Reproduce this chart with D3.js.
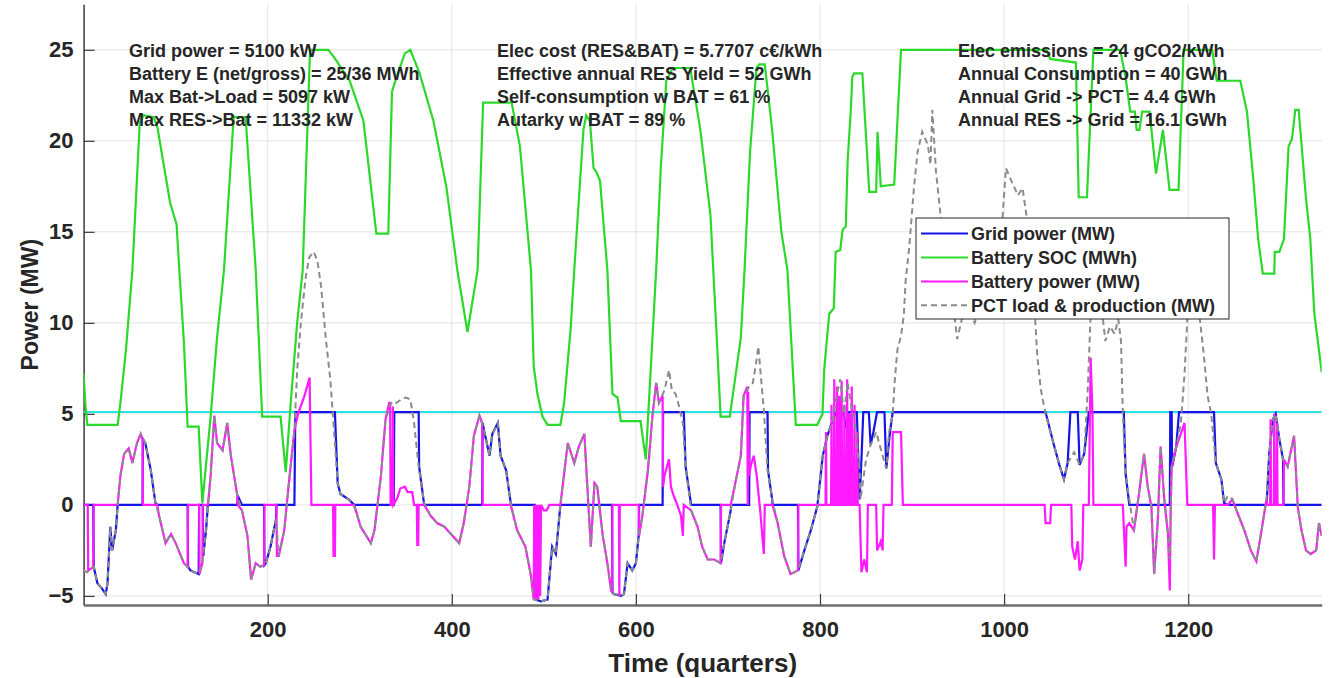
<!DOCTYPE html>
<html>
  <head>
    <meta charset="utf-8">
    <script src="https://d3js.org/d3.v7.min.js" charset="utf-8"></script>
    <style>
      body { margin: 0; background: #fff; }
      text { font-family: Arial, "Liberation Sans", sans-serif; font-weight: bold; fill: #262626; }
    </style>
  </head>
  <body>
    <script type="text/javascript">

// tick labels
var xTicks = [200, 400, 600, 800, 1000, 1200];
var yTicks = [-5, 0, 5, 10, 15, 20, 25];

// grid power limit (MW)
var gridLimit = 5.1;

// Battery SOC (MWh), [quarter, value]
var socPoints = [
  [0,7.2],[2,5.5],[4,4.4],[37,4.4],[40,5.6],[46,8.5],[53,12.9],[61,21.0],[65,21.4],[76,21.3],[80,20.8],
  [94,16.6],[101,15.4],[104,12.9],[109,8.9],[113,4.3],[125,4.3],[129,0.1],[138,4.85],[145,9.2],[152.5,12.9],
  [163,21.3],[176,21.3],[187,12.9],[194,4.85],[214,4.85],[219.6,1.8],[225,5.6],[232,10],[238,12.9],[246,25],
  [266,25],[272,24.6],[289,23.3],[304,21.1],[318,14.9],[331,14.9],[335,22.7],[340,23.5],[349,24.8],[355,25],
  [365,23.7],[380,21.1],[394,17.5],[406,12.9],[417,9.5],[428,12.9],[434,22.1],[465,22.1],[474,19.7],[486,12.9],
  [489,7.6],[493,6.1],[498.5,4.85],[504,4.4],[518,4.4],[522,5.6],[529,9.6],[533,12.9],[543,20.6],[546,21.4],
  [550,21.1],[554,18.5],[557,18.3],[561,17.8],[569,12.9],[574.5,6.1],[580,5.9],[583.6,4.6],[605,4.6],[610.7,2.5],
  [618,9.2],[622,12.9],[627,18.5],[633,23.3],[640,24.0],[659,24.0],[670,20.6],[681,15.9],[688,9.0],[692,4.85],
  [702,4.85],[714,9.2],[718,12.9],[724,19.4],[731,24.0],[734,24.2],[740,24.2],[748,20.6],[758,15.0],[764.6,12.9],
  [773.7,4.4],[797,4.4],[802.7,5.0],[804.5,7.4],[810,10.5],[815,10.8],[817,13.9],[822,14.0],[824.5,15.1],[828,15.3],
  [830,18.9],[833.5,21.7],[835,23.5],[837,23.7],[846,23.7],[853.5,17.2],[861,17.2],[862.5,20.5],[866,17.5],
  [880.6,17.6],[888,25],[1046,25],[1050,24.5],[1078,24.3],[1081,16.9],[1090,16.9],[1097,25],[1126,25],
  [1131.6,23.6],[1137,21.6],[1142,21.6],[1144,20.6],[1147,20.6],[1150,21.6],[1158,21.6],[1165,18.2],
  [1172.5,20.6],[1179.7,17.3],[1189.5,17.3],[1195,25],[1226,25],[1231,23.3],[1256.6,23.3],[1263.8,21.6],
  [1270.7,17.9],[1276,14.6],[1281,12.7],[1293.5,12.7],[1294,13.9],[1299,13.9],[1304,14.6],[1309,19.7],
  [1312.7,20.1],[1316.3,21.7],[1320,21.7],[1328,16.8],[1332.6,14.6],[1337,10.5],[1345,7.3]
];

// PCT load & production (MW)
var loadPoints = [
  [0,-3.6],[4,-3.7],[8,-3.5],[11,-3.4],[15,-4.3],[20,-4.6],[24,-4.9],[26,-4.3],[29,-1.2],[31,-2.5],[35,-1.4],
  [37,0],[40,1.6],[44,2.8],[49,3.1],[53,2.3],[58,3.4],[62,3.9],[67,3.4],[73,1.9],[78,0.1],[82,-0.6],[89,-2.1],
  [95,-1.6],[100,-2.1],[109,-3.2],[116,-3.6],[125,-3.8],[129,-3.2],[133,-1.4],[138,1.6],[142,4.9],[145,3.4],
  [151,3.0],[156,4.5],[160,2.7],[167,0.5],[172,-0.3],[178,-1.7],[182,-4.1],[187,-3.2],[192,-3.4],[198,-3.2],
  [203,-2.3],[209,-0.8],[212,-2.8],[218,-1.4],[223,1.2],[229,4.1],[232,7.4],[236,10.0],[241,12.4],[245,13.6],
  [250,13.9],[254,13.4],[258,12.0],[263,9.2],[268,6.9],[272,4.1],[276,1.2],[279,0.6],[288,0.3],[294,-0.1],
  [301,-1.2],[312,-2.1],[316,-1.4],[323,1.6],[328,4.7],[334,5.6],[337,5.5],[345,5.8],[350,5.9],[355,5.8],
  [359,4.5],[364,2.1],[370,0.1],[377,-0.6],[384,-1.0],[392,-1.2],[399,-1.6],[408,-2.1],[413,-1.0],[419,1.0],
  [424,3.8],[430,4.9],[435,4.1],[441,2.7],[444,3.9],[450,4.5],[453,2.7],[459,1.9],[464,0.1],[471,-1.4],
  [480,-2.3],[486,-3.9],[489,-5.2],[497,-5.3],[504,-5.2],[509,-2.3],[513,-2.7],[518,0.1],[526,3.4],[533,2.3],
  [538,3.2],[544,3.9],[547,1.2],[551,-2.3],[555,1.2],[558,1.0],[564,-1.7],[569,-3.2],[573,-4.7],[576,-4.9],
  [584,-5.0],[587,-4.9],[591,-3.2],[596,-3.6],[600,-3.2],[603,-1.7],[607,-0.6],[613,1.9],[618,4.9],[622,6.7],
  [625,5.6],[631,6.3],[636,7.4],[639,6.3],[643,6.1],[647,5.4],[651,4.5],[654,2.1],[660,-0.3],[667,-1.2],
  [672,-2.3],[678,-3.0],[685,-3.0],[692,-3.2],[696,-2.1],[703,-0.3],[708,1.2],[714,2.7],[717,6.0],[723,6.5],
  [727,6.7],[730,7.6],[733,8.7],[736,6.9],[739,5.2],[743,1.9],[748,0.3],[754,-1.0],[761,-2.8],[768,-3.8],
  [776,-3.6],[783,-2.5],[790,-1.4],[797,-0.1],[803,2.7],[808,3.8],[814,4.7],[818,6.0],[822,6.9],[826,5.0],
  [830,6.7],[834,5.4],[837,4.8],[843,2.0],[844,0.3],[850,2.5],[855,3.3],[861,4.0],[868,2.7],[872,2.0],
  [875,4.0],[879,5.0],[881,6.7],[884,8.5],[888,9.3],[891,10.4],[893,12.3],[897,14.2],[902,17.4],[906,19.4],
  [911,20.5],[917,19.8],[920,18.7],[922,21.7],[926,18.3],[930,16.4],[935,13.8],[940,11.9],[946,10.4],[949,9.1],
  [955,10.4],[960,10.8],[968,10.0],[975,11.2],[982,10.4],[989,11.9],[997,14.9],[1002,18.5],[1007,17.9],
  [1015,17.0],[1020,17.4],[1024,16.0],[1029,13.0],[1033,10.8],[1036,8.2],[1040,6.3],[1045,5.0],[1054,3.3],
  [1060,2.2],[1065,1.4],[1069,2.3],[1076,2.9],[1082,2.2],[1087,2.8],[1091,6.5],[1094,10.5],[1100,12.0],
  [1106,10.8],[1110,9.0],[1115,9.8],[1120,9.4],[1124,10.2],[1127,9.0],[1129,5.0],[1132,1.7],[1136,0.3],
  [1141,-1.4],[1147,0.8],[1152,2.8],[1156,1.0],[1160,-0.1],[1163,-3.8],[1167,-0.8],[1170,3.2],[1174,0.3],
  [1178,-1.6],[1180,-3.0],[1182,2.1],[1187,3.2],[1192,4.5],[1196,7.2],[1199,10.2],[1205,11.5],[1212,10.5],
  [1217,8.2],[1221,6.0],[1225,5.0],[1230,2.3],[1236,1.4],[1239,0.1],[1243,0.5],[1248,0.3],[1254,-0.5],
  [1261,-1.4],[1268,-2.5],[1274,-3.1],[1279,-1.6],[1285,0.3],[1288,2.8],[1292,4.7],[1295,5.0],[1299,3.6],
  [1303,2.5],[1308,2.1],[1315,3.8],[1319,-0.1],[1323,-1.4],[1328,-2.5],[1333,-2.7],[1339,-2.5],[1342,-1.0],
  [1345,-1.7]
];

// Grid power (MW)
var gridPoints = [
  [0,0],[10.5,0],[11,-3.4],[15,-4.3],[20,-4.6],[24,-4.9],[26,-4.3],[29,-1.2],[31,-2.5],[35,-1.4],[37,0],
  [64,0],[64.5,3.6],[67,3.4],[73,1.9],[78,0.1],[80,0],[113,0],[113.5,-3.4],[116,-3.6],[125,-3.8],[125.5,0],
  [129.5,0],[130,-2.8],[133,-1.4],[135,0],[167,0],[167.5,0.5],[172,0],[196,0],[196.5,-3.3],[198,-3.2],
  [203,-2.3],[209,-0.8],[209.5,0],[229,0],[230,5.1],[273,5.1],[276,1.2],[279,0.6],[288,0.3],[294,0],[337,0],
  [337.5,5.1],[364,5.1],[364.5,2.1],[370,0],[433,0],[433.5,4.5],[435,4.1],[441,2.7],[444,3.9],[450,4.5],
  [453,2.7],[459,1.9],[464,0.1],[464.5,0],[490,0],[490.5,-5.2],[497,-5.3],[504,-5.2],[509,-2.3],[513,-2.7],
  [518,0],[574,0],[574.5,-4.8],[576,-4.9],[584,-5.0],[587,-4.9],[591,-3.2],[596,-3.6],[600,-3.2],[603,-1.7],
  [603.5,0],[629,0],[629.5,5.1],[652,5.1],[654,2.1],[660,0],[692,0],[692.5,-3.2],[696,-2.1],[703,-0.3],
  [703.5,0],[723,0],[723.5,5.1],[743,5.1],[743.5,1.9],[748,0.3],[748.5,0],[776,0],[776.5,-3.6],[783,-2.5],
  [790,-1.4],[797,-0.1],[803,2.7],[808,3.8],[814,4.7],[818,5.1],[826,5.0],[828,4.2],[831,5.1],[840,5.1],
  [843,0.3],[845,2.5],[847,5.1],[853,5.1],[855,3.3],[858,4.0],[862,5.1],[870,5.1],[872,2.0],[876,4.0],
  [879,5.1],[1045,5.1],[1054,3.3],[1060,2.2],[1065,1.4],[1069,2.3],[1072,5.1],[1080,5.1],[1082,2.2],
  [1087,2.8],[1092,5.1],[1130,5.1],[1132,1.7],[1136,0],[1180,0],[1180.5,5.1],[1182,5.1],[1182.5,2.1],
  [1187,3.2],[1190,5.1],[1228,5.1],[1230,2.3],[1236,1.4],[1239,0.1],[1243,0],[1285,0],[1285.5,0.3],
  [1288,2.8],[1292,4.7],[1295,5.0],[1299,3.6],[1303,2.5],[1303.5,0],[1345,0]
];

// Battery power (MW)
var batteryPoints = [
  [0,0],[4.5,0],[5,-3.6],[8,-3.5],[10.5,-3.4],[11,0],[37,0],[40,1.6],[44,2.8],[49,3.1],[53,2.3],[58,3.4],
  [62,3.9],[64,3.6],[64.5,0],[80,0],[82,-0.6],[89,-2.1],[95,-1.6],[100,-2.1],[109,-3.2],[113,-3.4],[113.5,0],
  [125.5,0],[126,-3.8],[129,-3.2],[129.5,0],[135,0],[138,1.6],[142,4.9],[145,3.4],[151,3.0],[156,4.5],
  [160,2.7],[167,0.5],[167.5,0],[172,-0.3],[178,-1.7],[182,-4.1],[187,-3.2],[192,-3.4],[196,-3.3],[196.5,0],
  [209.5,0],[210,-2.8],[212,-2.8],[218,-1.4],[223,1.2],[229,4.1],[233,5.0],[240,6.0],[245.5,7.0],[247.5,0],
  [271,0],[271.5,-2.8],[273,-2.8],[273.5,0],[294,0],[301,-1.2],[312,-2.1],[316,-1.4],[323,1.6],[328,4.7],
  [332,5.6],[333,5.6],[333.5,0],[335.5,0],[336,5.4],[336.5,0],[341,0.4],[344,0.9],[349,1.0],[352,0.7],
  [357,0.7],[359,0],[362,0],[362.5,-2.2],[363.5,-2.2],[364,0],[370,0],[377,-0.6],[384,-1.0],[392,-1.2],
  [399,-1.6],[408,-2.1],[413,-1.0],[419,1.0],[424,3.8],[430,4.9],[433,4.5],[433.5,0],[464,0],[471,-1.4],
  [480,-2.3],[486,-3.9],[489,-5.2],[489.5,0],[490,-5.2],[491,0],[492,-5.2],[493,0],[494,-5.2],[495,0],
  [496,-5.0],[497,0],[500,-0.3],[503,-0.3],[506,0],[518,0],[526,3.4],[533,2.3],[538,3.2],[544,3.9],[547,1.2],
  [551,-2.3],[555,1.2],[558,1.0],[564,-1.7],[569,-3.2],[573,-4.7],[574,-4.8],[574.5,0],[581.5,0],[582,-5.0],
  [582.5,0],[603,0],[603.5,-1.7],[607,-0.6],[613,1.9],[618,4.9],[622,6.7],[625,5.6],[629,6.0],[629.5,1.0],
  [631,1.6],[636,2.5],[638,1.0],[641,0.5],[645,0],[649,-0.6],[651,-1.7],[652,0],[660,-0.3],[667,-1.2],
  [672,-2.3],[678,-3.0],[685,-3.0],[692,-3.2],[692.5,0],[703,0],[708,1.2],[714,2.7],[717,6.0],[721,6.5],
  [721.5,0],[722,6.2],[723,1.6],[725,2.2],[728,2.7],[731,1.7],[735,-0.3],[739,-2.7],[740,0],[748.5,0],
  [754,-1.0],[761,-2.8],[768,-3.8],[776,-3.6],[776.5,0],[806,0],[806.5,4.0],[807,0],[812,0],[812.5,5.5],
  [813,0],[815,0],[815.5,6.9],[816,0],[818,0],[818.5,6.5],[819,0],[820.5,0],[821,6.0],[821.5,0],[823,0],
  [823.5,6.8],[824,0],[826,0],[826.5,5.5],[827,0],[829,0],[829.5,6.9],[830,0],[831.5,0],[832,5.0],[832.5,0],
  [834,0],[834.5,6.5],[835,0],[837,0],[837.5,5.5],[838,0],[840,0],[840.5,4.0],[841,0],[843,0],[845,-3.7],
  [848,-3.0],[851,-3.7],[852,0],[861,0],[862,-2.5],[866,-2.0],[868,-2.5],[869,0],[878,0],[879,4.0],[888,4.0],
  [890,0],[1044,0],[1045,-1.0],[1050,-1.0],[1051,0],[1073,0],[1074,-2.3],[1077,-3.0],[1080,-2.0],
  [1082,-3.6],[1085,-3.0],[1086,0],[1092,0],[1094,8.1],[1096,5.0],[1097,0],[1129,0],[1130,-1.2],
  [1132,-3.4],[1133,-1.2],[1136,-1.0],[1141,-1.4],[1147,0.8],[1152,2.8],[1156,1.0],[1160,-0.1],[1163,-3.8],
  [1167,-0.8],[1170,3.2],[1174,0.3],[1178,-1.6],[1180,-4.7],[1181,0],[1182,2.1],[1187,3.2],[1192,3.9],
  [1196,4.5],[1199,0],[1227,0],[1228,-3.0],[1229,0],[1243,0],[1248,0.3],[1254,-0.5],[1261,-1.4],
  [1268,-2.5],[1274,-3.1],[1279,-1.6],[1285,0.3],[1285.5,0],[1289,0],[1289.5,4.7],[1290,0],[1293,0],
  [1293.5,5.0],[1294,0],[1296,0],[1296.5,4.5],[1297,0],[1303.5,0],[1304,2.5],[1308,2.1],[1315,3.8],
  [1319,-0.1],[1323,-1.4],[1328,-2.5],[1333,-2.7],[1339,-2.5],[1342,-1.0],[1345,-1.7]
];

var legendLabels = ["Grid power (MW)", "Battery SOC (MWh)", "Battery power (MW)", "PCT load & production (MW)"];

var infoCol1 = ["Grid power = 5100 kW", "Battery E (net/gross) = 25/36 MWh", "Max Bat->Load = 5097 kW", "Max RES->Bat = 11332 kW"];
var infoCol2 = ["Elec cost (RES&BAT) = 5.7707 c\u20ac/kWh", "Effective annual RES Yield = 52 GWh", "Self-consumption  w BAT = 61 %", "Autarky w BAT = 89 %"];
var infoCol3 = ["Elec emissions = 24 gCO2/kWh", "Annual Consumption = 40 GWh", "Annual Grid -> PCT = 4.4 GWh", "Annual RES -> Grid = 16.1 GWh"];

var w = 1329;
var h = 678;

var colBlue = "#1414e6";
var colGreen = "#2bd92b";
var colMagenta = "#ff1aff";
var colGrey = "#8c8c8c";
var colCyan = "#29e3e3";

var x = d3.scaleLinear().domain([0, 1345]).range([83.6, 1321.7]);
var y = d3.scaleLinear().domain([-5.5, 27.5]).range([605, 4.3]);

var svg = d3.select("body")
  .append("svg")
  .attr("width", w)
  .attr("height", h);

svg.append("defs").append("clipPath").attr("id", "plot")
  .append("rect")
  .attr("x", x(0)).attr("y", y(27.5))
  .attr("width", x(1345) - x(0)).attr("height", y(-5.5) - y(27.5));

// grid lines
svg.append("g").selectAll("line")
  .data(xTicks).enter().append("line")
  .attr("x1", function(d) { return x(d); }).attr("x2", function(d) { return x(d); })
  .attr("y1", y(27.5)).attr("y2", y(-5.5))
  .style("stroke", "#e3e3e3").style("stroke-width", 1);
svg.append("g").selectAll("line")
  .data(yTicks).enter().append("line")
  .attr("x1", x(0)).attr("x2", x(1345))
  .attr("y1", function(d) { return y(d); }).attr("y2", function(d) { return y(d); })
  .style("stroke", "#e3e3e3").style("stroke-width", 1);

// axes, MATLAB style ticks pointing inside
var yAxis = svg.append("g")
  .attr("transform", "translate(" + x(0) + ",0)")
  .call(d3.axisLeft(y).tickValues(yTicks).tickFormat(d3.format("d")).tickSize(-11).tickSizeOuter(0).tickPadding(10));
var xAxis = svg.append("g")
  .attr("transform", "translate(0," + y(-5.5) + ")")
  .call(d3.axisBottom(x).tickValues(xTicks).tickFormat(d3.format("d")).tickSize(-11).tickSizeOuter(0).tickPadding(16));

[yAxis, xAxis].forEach(function(a) {
  a.select(".domain").style("stroke", "#3c3c3c").style("stroke-width", 1.5);
  a.selectAll(".tick line").style("stroke", "#3c3c3c").style("stroke-width", 1.2);
  a.selectAll(".tick text").style("font-size", "22px").style("font-family", "Arial, 'Liberation Sans', sans-serif")
    .style("font-weight", "bold").style("fill", "#262626");
});
xAxis.select(".domain").style("stroke", "#6e6e6e").style("stroke-width", 2.5);

svg.append("text")
  .attr("transform", "translate(30," + ((y(27.5) + y(-5.5)) / 2) + ") rotate(-90)")
  .attr("text-anchor", "middle").attr("dy", "0.35em")
  .style("font-size", "23px")
  .text("Power (MW)");

svg.append("text")
  .attr("x", (x(0) + x(1345)) / 2).attr("y", 663)
  .attr("text-anchor", "middle").attr("dy", "0.35em")
  .style("font-size", "26px")
  .text("Time (quarters)");

// series
var line = d3.line()
  .x(function(d) { return x(d[0]); })
  .y(function(d) { return y(d[1]); });

var plot = svg.append("g").attr("clip-path", "url(#plot)");

plot.append("line")
  .attr("x1", x(0)).attr("x2", x(1345))
  .attr("y1", y(gridLimit)).attr("y2", y(gridLimit))
  .style("stroke", colCyan).style("stroke-width", 2);

plot.append("path").datum(gridPoints).attr("d", line)
  .style("fill", "none").style("stroke", colBlue).style("stroke-width", 2.2);
plot.append("path").datum(socPoints).attr("d", line)
  .style("fill", "none").style("stroke", colGreen).style("stroke-width", 2.2);
plot.append("path").datum(batteryPoints).attr("d", line)
  .style("fill", "none").style("stroke", colMagenta).style("stroke-width", 2.2);
plot.append("path").datum(loadPoints).attr("d", line)
  .style("fill", "none").style("stroke", colGrey).style("stroke-width", 2)
  .style("stroke-dasharray", "6,4");

// info text
[infoCol1, infoCol2, infoCol3].forEach(function(col, i) {
  var left = [129, 497, 958][i];
  svg.append("g").selectAll("text")
    .data(col).enter().append("text")
    .attr("x", left)
    .attr("y", function(d, j) { return 51 + j * 23; })
    .attr("dy", "0.35em")
    .style("font-size", "18px")
    .text(function(d) { return d; });
});

// legend
var legend = svg.append("g");
legend.append("rect")
  .attr("x", 916).attr("y", 218).attr("width", 313).attr("height", 101)
  .style("fill", "#fff").style("stroke", "#262626").style("stroke-width", 1);

var legendStyles = [
  { color: colBlue, dash: null },
  { color: colGreen, dash: null },
  { color: colMagenta, dash: null },
  { color: colGrey, dash: "6,4" }
];

legend.selectAll("g.item")
  .data(legendLabels).enter().append("g")
  .attr("class", "item")
  .each(function(d, i) {
    var g = d3.select(this);
    var yy = 233.6 + i * 23.9;
    g.append("line")
      .attr("x1", 921).attr("x2", 968).attr("y1", yy).attr("y2", yy)
      .style("stroke", legendStyles[i].color).style("stroke-width", 2)
      .style("stroke-dasharray", legendStyles[i].dash);
    g.append("text")
      .attr("x", 971).attr("y", yy).attr("dy", "0.35em")
      .style("font-size", "18px")
      .text(d);
  });

    </script>
  </body>
</html>
